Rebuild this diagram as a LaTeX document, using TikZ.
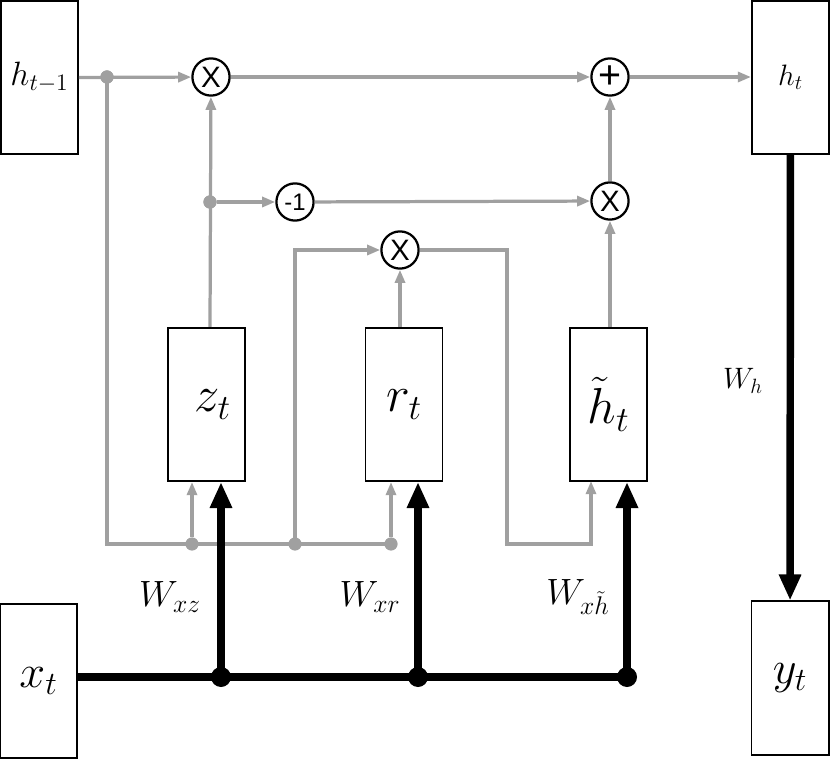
\documentclass[tikz,border=0pt]{standalone}
\usepackage{fix-cm}
\usepackage{fontspec}
\usepackage{tikz}
\usetikzlibrary{arrows.meta}
\newfontfamily\opfont{Liberation Sans}
\definecolor{linegray}{RGB}{160,160,160}
\tikzstyle{gate}     = [rectangle, draw=black, line width=1.4pt, fill=white,
    minimum width=1.925cm, minimum height=3.825cm, inner sep=0pt]
\tikzstyle{op}       = [circle, draw=black, line width=1.6pt, fill=white,
    minimum size=0.93cm, inner sep=0pt, font=\opfont\fontsize{21}{21}\selectfont]
\tikzstyle{gdot}     = [circle, fill=linegray, minimum size=0.33cm, inner sep=0pt]
\tikzstyle{bdot}     = [circle, fill=black, minimum size=0.5cm, inner sep=0pt]
\tikzstyle{grayline} = [linegray, line width=2.3pt]
\tikzstyle{grayarrow} = [grayline, -{Triangle[length=0.33cm, width=0.25cm]}]
\tikzstyle{blackarrow} = [black, line width=5.3pt, -{Triangle[length=0.65cm, width=0.52cm]}]

\begin{document}
\begin{tikzpicture}[x=0.025cm, y=-0.025cm]
    \useasboundingbox (0,0) rectangle (830,761);
    % gates and states
    \node (hprev) [gate, font=\fontsize{24}{28}\selectfont] at (39.5,77.5)  {$h_{t-1}$};
    \node (hcur)  [gate, font=\fontsize{21}{24}\selectfont] at (790.5,77.5) {$h_t$};
    \node (zgate) [gate, font=\fontsize{36}{40}\selectfont] at (206.5,404.5) {\hspace{9pt}$z_t$};
    \node (rgate) [gate, font=\fontsize{36}{40}\selectfont] at (404,404.5)   {$r_t$};
    \node (hcand) [gate, font=\fontsize{36}{40}\selectfont] at (608.5,404.5) {$\tilde{h}_t$};
    \node (xin)   [gate, font=\fontsize{33}{36}\selectfont] at (38.5,681)    {$x_t$};
    \node (yout)  [gate, font=\fontsize{33}{36}\selectfont] at (790,678)     {$y_t$};
    % operations
    \node (mulz) [op] at (211,77)  {X};
    \node (add)  [op, font=\opfont\fontsize{28}{28}\selectfont] at (610,77) {+};
    \node (neg)  [op, font=\opfont\fontsize{17}{17}\selectfont] at (295,202) {-1};
    \node (mulh) [op] at (610,201) {X};
    \node (mulr) [op] at (400,250) {X};
    % junctions
    \node (d1) [gdot] at (107,77)  {};
    \node (d2) [gdot] at (210,202) {};
    \node (d3) [gdot] at (192,544) {};
    \node (d4) [gdot] at (295,544) {};
    \node (d5) [gdot] at (391,544) {};
    \node (b1) [bdot] at (221,677) {};
    \node (b2) [bdot] at (418,677) {};
    \node (b3) [bdot] at (627,677) {};
    \coordinate (rbend) at (507,544);
    \coordinate (hgin)  at (591,481);
    % gray paths
    \draw [grayarrow] (hprev.east) -- (mulz);
    \draw [grayline]  (d1.center) -- (d1.center |- d3.center) -- (d5.center);
    \draw [grayarrow] (d3) -- (d3 |- zgate.south);
    \draw [grayarrow] (d5) -- (d5 |- rgate.south);
    \draw [grayarrow] (d4.center) |- (mulr);
    \draw [grayarrow] (mulr |- rgate.north) -- (mulr);
    \draw [grayarrow] (mulr) -| (rbend) -| (hgin);
    \draw [grayarrow] (d2 |- zgate.north) -- (mulz);
    \draw [grayarrow] (d2) -- (neg);
    \draw [grayarrow] (neg) -- (mulh);
    \draw [grayarrow] (mulh |- hcand.north) -- (mulh);
    \draw [grayarrow] (mulh) -- (add);
    \draw [grayarrow] (mulz) -- (add);
    \draw [grayarrow] (add) -- (hcur.west |- add);
    \node [gdot] at (d1) {};
    \node [gdot] at (d2) {};
    % input weights
    \draw [black, line width=5.3pt] (xin.east |- b1) -- (b3.center);
    \draw [blackarrow] (b1.center) -- (b1 |- zgate.south);
    \draw [blackarrow] (b2.center) -- (b2 |- rgate.south);
    \draw [blackarrow] (b3.center) -- (b3 |- hcand.south);
    \draw [blackarrow] (hcur) -- (yout);
    \node (wxz) [font=\fontsize{26}{30}\selectfont] at (170,597) {$W_{xz}$};
    \node (wxr) [font=\fontsize{26}{30}\selectfont] at (370,597) {$W_{xr}$};
    \node (wxh) [font=\fontsize{26}{30}\selectfont] at (578,597) {$W_{x\tilde{h}}$};
    \node (wh)  [font=\fontsize{21}{24}\selectfont] at (743,381) {$W_h$};
\end{tikzpicture}
\end{document}
